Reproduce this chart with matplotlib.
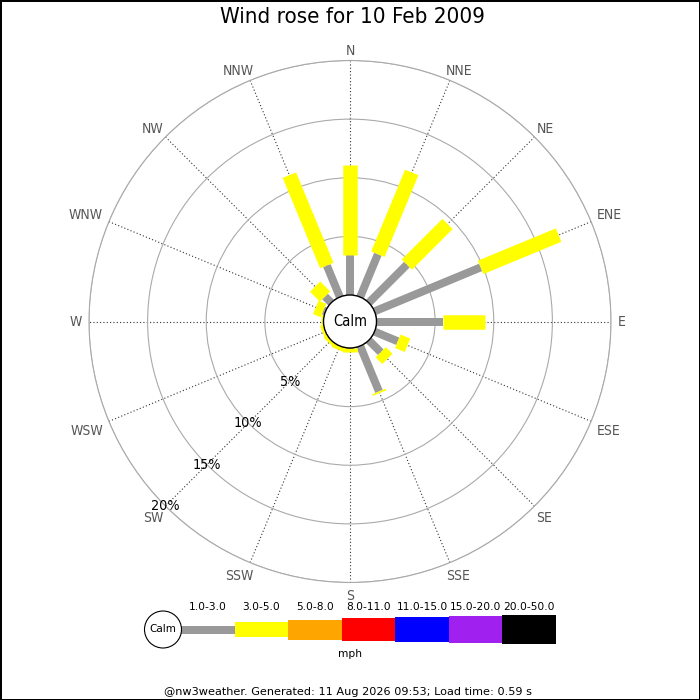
import numpy as np
import matplotlib
matplotlib.use("Agg")
import matplotlib.pyplot as plt
from matplotlib.patches import Circle, Rectangle

# ---------------- data ----------------
directions = ["N", "NNE", "NE", "ENE", "E", "ESE", "SE", "SSE",
              "S", "SSW", "SW", "WSW", "W", "WNW", "NW", "NNW"]
# percentage of time per direction for each speed band (mph)
freq_1_3 = [3.45, 3.95, 4.6, 9.8, 5.65, 2.15, 1.45, 4.2,
            0.0, 0.0, 0.0, 0.0, 0.0, 0.2, 0.75, 2.9]
freq_3_5 = [7.6, 7.55, 4.9, 7.2, 3.6, 0.9, 0.8, 0.15,
            0.3, 0.35, 0.3, 0.25, 0.2, 0.7, 1.2, 8.35]
band_labels = ["1.0-3.0", "3.0-5.0", "5.0-8.0", "8.0-11.0",
               "11.0-15.0", "15.0-20.0", "20.0-50.0"]
band_colors = ["#999999", "#ffff00", "#ffa500", "#ff0000",
               "#0000ff", "#a020f0", "#000000"]
ring_pcts = [5, 10, 15, 20]
title = "Wind rose for 10 Feb 2009"
footer = "@nw3weather. Generated: 11 Aug 2026 09:53; Load time: 0.59 s"

# ---------------- layout ----------------
W = H = 700
DPI = 100
cx, cy = 350, 321.5          # centre in px (from top)
R = 261                      # outer radius px
calm_r = 26.5                # calm circle radius px
band_px = [8, 14.5, 20, 23, 25, 27, 29]   # bar thickness px per band
px2pt = 72 / DPI
COND = dict(family="DejaVu Sans", fontstretch="condensed")

fig = plt.figure(figsize=(W / DPI, H / DPI), dpi=DPI,
                 facecolor="white", edgecolor="black", linewidth=2)

ax = fig.add_axes([(cx - R) / W, (H - cy - R) / H, 2 * R / W, 2 * R / H],
                  projection="polar")
ax.set_theta_zero_location("N")
ax.set_theta_direction(-1)
rmax = ring_pcts[-1]
scale = (R - calm_r) / rmax
ax.set_ylim(0, rmax)
ax.set_rorigin(-calm_r / scale)

angles = np.arange(len(directions)) * 22.5
theta = np.radians(angles)
ax.set_xticks(theta)
ax.set_xticklabels([])
ax.set_yticks(ring_pcts)
ax.set_yticklabels([])
ax.tick_params(length=0)
ax.xaxis.grid(True, linestyle=(0, (1, 2)), color="#333333", linewidth=0.8)
ax.yaxis.grid(True, linestyle="-", color="#aaaaaa", linewidth=0.8)
ax.spines["polar"].set_color("#aaaaaa")
ax.spines["polar"].set_linewidth(0.8)
ax.set_facecolor("white")

# bars: stacked radial segments of constant pixel width
bands = [freq_1_3, freq_3_5]
for i, t in enumerate(theta):
    base = 0.0
    for b, vals in enumerate(bands):
        v = vals[i]
        if v > 0:
            ax.plot([t, t], [base, base + v], color=band_colors[b],
                    linewidth=band_px[b] * px2pt, solid_capstyle="butt",
                    zorder=3 + b)
        base += v

# percent labels along SW spoke
for p in ring_pcts:
    ax.text(np.radians(225), p, f"{p}%", ha="center", va="center",
            fontsize=10.3, color="black", zorder=10, clip_on=False, **COND)

# direction labels
for d, a in zip(directions, angles):
    s, c = np.sin(np.radians(a)), np.cos(np.radians(a))
    if abs(s) < 0.01:
        ha, dx = "center", 0.0
    elif s > 0:
        ha, dx = "left", 17.3 * s - 10.3
    else:
        ha, dx = "right", 17.3 * s + 10.3
    if abs(c) < 0.01:
        va, dy = "center", 0.0
    elif c > 0:
        va, dy = "baseline", 6 * c
    else:
        va, dy = "top", 7 * c
    ax.annotate(d, xy=(np.radians(a), rmax),
                xytext=(dx * px2pt, dy * px2pt),
                textcoords="offset points", ha=ha, va=va,
                fontsize=10, color="#555555", annotation_clip=False, **COND)

# calm circle
ax.add_patch(Circle((0.5, 0.5), calm_r / (2 * R), transform=ax.transAxes,
                    facecolor="white", edgecolor="black", linewidth=1,
                    zorder=20, clip_on=False))
ax.text(0.5, 0.5, "Calm", transform=ax.transAxes, ha="center", va="center",
        fontsize=10.5, zorder=21, **COND)

# ---------------- overlay (title, legend, footer) ----------------
lax = fig.add_axes([0, 0, 1, 1], facecolor="none")
lax.set_xlim(0, W)
lax.set_ylim(H, 0)
lax.axis("off")

lax.text(W / 2 + 2, 17, title, ha="center", va="center", fontsize=16, **COND)

leg_y = 629.5
lax.add_patch(Circle((163, leg_y), 18.5, facecolor="white",
                     edgecolor="black", linewidth=0.8, zorder=5))
lax.text(163, leg_y, "Calm", ha="center", va="center", fontsize=7.5, zorder=6)
edges = [181, 235, 288, 342, 395, 449, 502, 556]
for k, (lab, col) in enumerate(zip(band_labels, band_colors)):
    x0, x1 = edges[k], edges[k + 1]
    h = band_px[k]
    lax.add_patch(Rectangle((x0, leg_y - h / 2), x1 - x0, h,
                            facecolor=col, edgecolor="none", zorder=4))
    lax.text((x0 + x1) / 2, 607, lab, ha="center", va="center", fontsize=7.7)
lax.text(350, 654, "mph", ha="center", va="center", fontsize=7.7)
lax.text(348, 692, footer, ha="center", va="center", fontsize=8.15)

fig.savefig("out.png", dpi=DPI, facecolor="white", edgecolor="black")
